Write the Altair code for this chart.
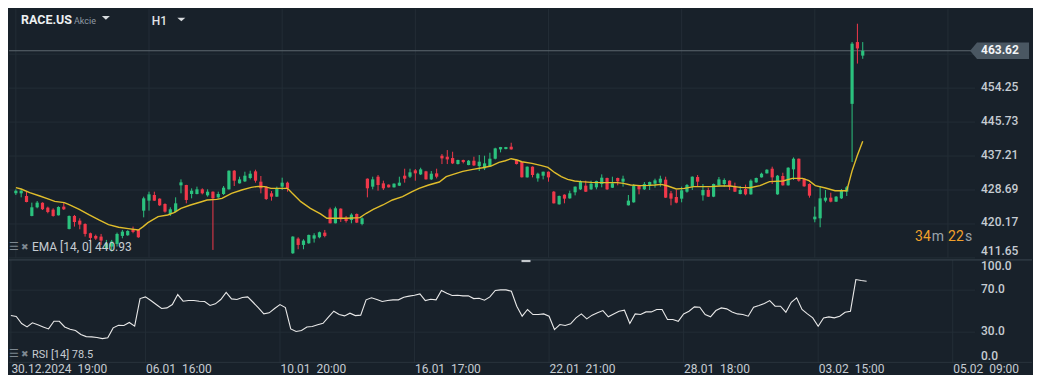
import json
import altair as alt
import pandas as pd

# ---------------- data (RACE.US, H1) ----------------
opens = [427.86, 427.86, 427.19, 422.18, 424.35, 425.52, 424.27, 423.76, 422.34, 424.52,
         418.92, 422.18, 421.01, 420.17, 417.84, 417.17, 417.00, 414.00, 414.50, 415.16,
         417.17, 417.33, 418.84, 418.67, 423.51, 426.02, 427.44, 426.52, 425.18, 422.68,
         423.26, 429.86, 429.94, 427.69, 427.69, 428.86, 427.35, 428.27, 426.85, 427.69,
         428.86, 433.53, 430.36, 430.86, 431.70, 433.37, 430.78, 429.53, 427.86, 427.02,
         429.53, 430.53, 412.82, 416.50, 414.91, 415.33, 416.50, 416.83, 418.00, 423.85,
         420.34, 424.01, 421.76, 421.18, 422.68, 420.17, 431.53, 429.53, 432.03, 430.36,
         430.03, 429.36, 429.78, 432.28, 432.03, 433.62, 432.61, 433.37, 431.36, 432.87,
         437.29, 437.04, 436.71, 435.20, 436.21, 434.95, 436.04, 434.70, 434.12, 434.70,
         436.54, 438.88, 438.96, 439.55, 436.21, 435.70, 431.86, 434.54, 431.61, 432.28,
         433.28, 428.27, 425.10, 427.52, 426.60, 428.11, 428.86, 429.78, 428.86, 429.36,
         430.19, 431.70, 429.27, 431.70, 430.78, 424.85, 425.60, 429.69, 428.86, 429.86,
         430.28, 430.53, 431.28, 427.86, 426.94, 426.52, 428.27, 429.53, 431.95, 427.35,
         428.69, 427.02, 429.86, 430.19, 431.03, 429.53, 427.69, 428.94, 427.60, 430.61,
         431.86, 432.87, 434.03, 427.60, 432.20, 429.86, 433.87, 436.54, 431.53, 430.19,
         421.34, 421.59, 426.02, 426.77, 425.77, 426.60, 428.27, 450.30, 465.80, 462.40]
highs = [428.86, 428.94, 428.27, 425.52, 425.93, 425.60, 424.52, 424.10, 424.60, 425.52,
         422.30, 422.43, 421.59, 420.34, 418.00, 417.50, 417.67, 416.17, 416.17, 418.00,
         418.67, 418.60, 419.51, 418.80, 427.02, 428.27, 428.27, 426.60, 425.35, 424.35,
         426.85, 431.36, 430.00, 429.11, 429.53, 429.11, 428.86, 428.35, 428.27, 429.69,
         433.60, 433.70, 432.03, 433.28, 433.53, 433.78, 432.20, 429.69, 428.44, 429.53,
         431.78, 430.78, 417.10, 416.83, 416.33, 417.50, 417.84, 418.25, 418.67, 424.27,
         424.52, 424.10, 422.18, 422.85, 422.80, 421.84, 431.60, 432.03, 432.45, 431.03,
         430.10, 430.36, 432.03, 434.03, 434.03, 433.95, 434.28, 433.50, 433.45, 434.03,
         437.71, 438.71, 438.29, 436.30, 436.30, 436.21, 437.04, 437.46, 437.29, 438.04,
         439.29, 439.50, 439.50, 440.55, 436.30, 435.80, 434.60, 434.60, 433.03, 433.30,
         433.35, 428.44, 427.30, 427.60, 428.52, 429.60, 431.11, 431.03, 431.03, 431.03,
         432.61, 431.80, 432.03, 431.80, 432.28, 427.44, 430.19, 429.94, 430.69, 430.80,
         431.53, 432.28, 432.03, 428.44, 428.69, 429.53, 430.19, 432.10, 432.45, 430.19,
         429.27, 430.30, 431.95, 431.61, 431.10, 430.53, 429.69, 430.03, 431.36, 431.80,
         433.03, 433.90, 434.54, 432.45, 433.03, 434.40, 436.87, 436.60, 431.60, 430.36,
         424.52, 429.69, 428.69, 428.02, 427.19, 428.94, 429.69, 465.80, 470.40, 465.80]
lows = [427.44, 426.85, 425.60, 422.10, 424.10, 423.68, 422.85, 422.01, 422.30, 423.68,
        418.80, 419.51, 418.84, 417.00, 415.58, 416.17, 414.91, 413.66, 413.24, 414.50,
        416.58, 417.20, 417.84, 416.70, 421.84, 423.51, 425.95, 424.70, 423.01, 422.18,
        423.01, 427.86, 425.35, 426.60, 427.60, 427.60, 427.02, 413.66, 426.60, 427.44,
        428.80, 429.69, 430.30, 430.69, 431.36, 430.53, 427.86, 426.19, 426.02, 426.95,
        428.69, 428.27, 412.66, 413.83, 413.83, 415.20, 415.50, 416.58, 416.83, 420.30,
        420.30, 420.67, 420.51, 420.34, 420.40, 419.84, 426.85, 428.86, 428.52, 428.69,
        429.30, 429.30, 429.69, 430.53, 431.70, 431.03, 432.45, 431.30, 431.20, 431.61,
        435.20, 435.20, 435.20, 435.10, 435.37, 434.90, 434.70, 433.45, 433.70, 434.60,
        436.37, 438.13, 438.90, 438.80, 435.10, 431.80, 431.80, 431.86, 430.78, 431.36,
        430.78, 425.30, 425.00, 425.35, 426.50, 427.35, 428.69, 428.20, 428.69, 428.86,
        429.36, 428.69, 429.20, 429.86, 429.53, 424.80, 425.50, 427.60, 428.69, 428.69,
        429.27, 429.53, 426.70, 424.85, 425.35, 425.60, 428.02, 428.69, 429.69, 426.02,
        426.95, 426.90, 429.80, 429.53, 428.69, 428.20, 427.60, 427.35, 427.50, 430.50,
        431.80, 432.80, 430.19, 427.50, 429.80, 429.80, 431.20, 430.78, 429.50, 426.77,
        420.59, 419.34, 425.60, 425.60, 425.70, 426.44, 427.19, 435.70, 460.40, 461.60]
closes = [428.52, 428.52, 425.68, 424.35, 425.52, 423.85, 423.18, 422.18, 424.43, 423.85,
          422.18, 420.67, 420.01, 417.67, 416.67, 416.50, 416.00, 415.33, 415.75, 417.67,
          418.25, 418.42, 418.17, 416.83, 426.60, 427.60, 426.02, 424.85, 423.26, 423.85,
          425.35, 430.61, 426.19, 428.52, 428.86, 427.86, 428.27, 426.60, 427.69, 429.27,
          433.53, 431.03, 431.36, 432.28, 432.78, 431.03, 429.11, 426.44, 427.02, 429.11,
          430.53, 429.11, 417.00, 414.91, 416.00, 417.42, 417.33, 418.09, 417.17, 420.34,
          424.10, 421.34, 420.92, 422.51, 420.51, 421.59, 429.11, 431.36, 429.94, 429.11,
          429.36, 430.28, 430.53, 431.53, 433.12, 432.87, 433.87, 431.36, 432.78, 432.03,
          436.62, 436.37, 435.37, 436.21, 435.70, 436.04, 434.87, 435.79, 435.37, 436.54,
          439.13, 439.46, 439.46, 438.88, 435.20, 431.86, 434.54, 432.45, 432.78, 433.28,
          431.86, 425.35, 427.19, 426.52, 427.86, 429.53, 430.94, 428.27, 430.28, 430.94,
          431.78, 428.86, 430.36, 430.86, 431.53, 426.02, 429.69, 428.86, 430.19, 430.69,
          431.11, 431.53, 426.77, 426.52, 425.52, 428.61, 429.94, 432.03, 430.78, 428.69,
          427.02, 430.19, 431.36, 431.20, 429.53, 428.27, 428.69, 427.60, 431.03, 431.70,
          432.78, 433.78, 431.86, 432.28, 429.86, 434.28, 436.54, 431.03, 429.61, 427.27,
          422.01, 426.60, 426.77, 425.77, 427.02, 428.69, 429.36, 465.40, 464.20, 463.62]

rsi_values = [45.8, 44.9, 38.2, 35.0, 38.9, 37.0, 35.0, 33.1, 40.4, 40.4,
              35.0, 32.8, 31.6, 27.8, 25.8, 25.5, 24.9, 23.9, 24.6, 34.1,
              36.6, 36.3, 39.2, 35.7, 62.0, 63.6, 60.1, 56.3, 52.5, 53.1,
              56.3, 65.8, 59.5, 60.1, 60.1, 59.5, 59.2, 55.4, 57.0, 61.1,
              67.8, 61.7, 61.1, 63.0, 63.6, 58.5, 53.1, 47.4, 48.4, 52.5,
              56.3, 53.5, 33.1, 30.6, 31.6, 35.0, 35.4, 37.0, 38.5, 44.3,
              50.0, 46.8, 45.5, 48.1, 45.8, 46.2, 60.8, 62.7, 61.1, 59.2,
              60.1, 60.8, 60.8, 63.3, 64.3, 65.2, 66.5, 60.1, 61.4, 60.8,
              69.7, 67.1, 64.9, 65.2, 64.6, 64.6, 62.0, 62.3, 60.4, 63.6,
              69.7, 70.3, 70.3, 69.0, 54.7, 45.2, 51.6, 46.8, 46.8, 47.4,
              45.2, 32.5, 37.3, 36.3, 37.9, 43.6, 47.4, 42.7, 46.2, 48.4,
              50.6, 44.6, 47.4, 50.0, 50.9, 38.2, 47.4, 46.8, 49.3, 49.3,
              51.6, 51.6, 42.0, 42.0, 40.4, 47.4, 50.0, 54.1, 53.8, 46.8,
              44.6, 50.6, 53.1, 52.2, 49.3, 47.4, 46.8, 45.2, 53.8, 55.4,
              57.3, 60.1, 54.7, 54.7, 49.0, 58.5, 62.7, 51.6, 47.4, 43.6,
              35.7, 43.6, 44.6, 43.6, 45.2, 49.0, 50.0, 80.1, 79.2, 78.5]

ema_x = [0, 1, 2.6, 4.5, 6.3, 7.3, 9.1, 10, 11.9, 13.7, 15.6, 17.4, 19.3, 21.1, 23, 23.9,
         24.8, 26.7, 28.5, 29.7, 31, 32.8, 34.7, 35.9, 37.7, 38.7, 40.5, 42.4, 44.2, 45.5,
         46.7, 47.9, 49.8, 51.0, 51.9, 53.5, 55.3, 57.2, 58.4, 60.0, 62.1, 64.6, 65.8, 67.1,
         68.9, 70.7, 72.6, 74.4, 75.7, 77.5, 79.5, 80.8, 82.1, 83.9, 85.8, 87.6, 89.2, 90.7,
         91.9, 93.0, 94.1, 95.0, 96.9, 98.7, 99.9, 101.2, 102.4, 103.6, 104.9, 106.1, 108.0,
         110.4, 112.9, 114.1, 115.4, 117.2, 119.0, 120.0, 121.2, 122.4, 124.0, 125.5, 127.3,
         130.4, 132.3, 134.1, 136.0, 137.8, 139.7, 141.5, 144.0, 145.8, 147.7, 148.9, 150.1,
         152.0, 153.8, 156, 157, 158, 159]
ema_y = [429.27, 428.94, 428.02, 427.19, 426.35, 425.85, 425.52, 425.00, 423.85, 422.51,
         421.18, 420.01, 419.34, 419.00, 418.67, 419.51, 420.51, 422.01, 422.43, 423.01,
         424.10, 424.93, 425.68, 426.19, 426.35, 426.60, 427.86, 428.69, 429.36, 429.61,
         429.53, 429.11, 429.11, 429.11, 427.86, 425.77, 424.10, 422.68, 421.59, 421.59,
         421.59, 421.76, 422.85, 423.85, 424.93, 426.19, 427.02, 428.27, 429.11, 429.94,
         430.70, 432.03, 432.61, 433.37, 433.87, 434.28, 434.70, 435.62, 436.04, 436.54,
         436.21, 435.79, 435.37, 434.79, 434.37, 433.03, 432.03, 431.36, 430.94, 430.78,
         430.61, 430.53, 430.53, 430.36, 429.94, 429.78, 429.85, 429.94, 430.11, 429.69,
         428.94, 429.11, 429.53, 429.53, 429.69, 429.69, 429.36, 429.27, 429.78, 430.78,
         430.94, 431.61, 431.61, 431.03, 429.78, 429.19, 428.52, 428.50, 433.50, 437.40,
         440.93]

date_ticks = [0, 25, 50, 75, 100, 125, 150, 175]
date_labels = ["30.12.2024\u00a0\u00a019:00", "06.01\u00a0\u00a016:00", "10.01\u00a0\u00a020:00",
               "16.01\u00a0\u00a017:00", "22.01\u00a0\u00a021:00", "28.01\u00a0\u00a018:00",
               "03.02\u00a0\u00a015:00", "05.02\u00a0\u00a009:00"]
price_grid = [411.65, 420.17, 428.69, 437.21, 445.73, 454.25, 462.77]
price_labels = [420.17, 428.69, 437.21, 445.73, 454.25]
price_bottom = [411.65]
last_price = 463.62
rsi_grid = [30, 70]
rsi_mid_labels = [70, 30]
rsi_top_label = [100]
rsi_bottom_label = [0]

# ---------------- style ----------------
BG = "#18212a"
GRID = "#232d36"
SEP = "#3a454e"
PRICE_LINE = "#5c676f"
GREEN = "#2bc27e"
RED = "#f0384a"
EMA_C = "#e0bd2b"
TXT = "#c6ccd2"
TAG = "#4a5762"
FONT = "Roboto"
W = 967
H_MAIN = 249
H_RSI = 103
X_DOMAIN = [-0.35, 179.15]
Y_MAIN = [411.65, 474.05]
Y_RSI = [0.8, 98.8]

xs = alt.Scale(domain=X_DOMAIN, nice=False, zero=False)
ys_main = alt.Scale(domain=Y_MAIN, nice=False, zero=False)
ys_rsi = alt.Scale(domain=Y_RSI, nice=False, zero=False)

label_expr = ("[" + ",".join(json.dumps(s, ensure_ascii=False) for s in date_labels) + "]"
              "[indexof(" + json.dumps(date_ticks) + ", datum.value)]")
x_axis = alt.Axis(values=date_ticks, labelExpr=label_expr, grid=False, ticks=False,
                  domain=False, labelAlign="left", labelBaseline="top", labelPadding=0.5,
                  labelFont=FONT, labelFontSize=12, labelColor=TXT, labelFlush=False,
                  labelOverlap=False, title=None)


def X(field, axis=None):
    return alt.X(f"{field}:Q", scale=xs, axis=axis, title=None)


def YM(field):
    return alt.Y(f"{field}:Q", scale=ys_main, axis=None, title=None)


def YR(field):
    return alt.Y(f"{field}:Q", scale=ys_rsi, axis=None, title=None)


def txt(t, x, y, size=12, color=TXT, weight="normal", align="left", baseline="middle", font=FONT):
    return alt.Chart(pd.DataFrame({"t": [t]})).mark_text(
        align=align, baseline=baseline, fontSize=size, color=color, fontWeight=weight, font=font
    ).encode(x=alt.value(x), y=alt.value(y), text="t:N")


n = len(opens)
cdf = pd.DataFrame({"i": list(range(n)), "o": opens, "h": highs, "l": lows, "c": closes})
color_enc = alt.Color("dir:N", scale=alt.Scale(domain=["up", "down"], range=[GREEN, RED]), legend=None)

# ---------------- main (price) panel ----------------
hgrid = alt.Chart(pd.DataFrame({"p": price_grid})).mark_rule(color=GRID, strokeWidth=1).encode(y=YM("p"))
vgrid = alt.Chart(pd.DataFrame({"i": date_ticks})).mark_rule(color=GRID, strokeWidth=1).encode(x=X("i"))
pline = alt.Chart(pd.DataFrame({"p": [last_price]})).mark_rule(color=PRICE_LINE, strokeWidth=1).encode(y=YM("p"))
wicks = alt.Chart(cdf).transform_calculate(dir="datum.c >= datum.o ? 'up' : 'down'").mark_rule(
    strokeWidth=1).encode(x=X("i"), y=YM("l"), y2="h:Q", color=color_enc)
bodies = alt.Chart(cdf).transform_calculate(dir="datum.c >= datum.o ? 'up' : 'down'").mark_bar(
    size=3.2).encode(x=X("i"), y=YM("o"), y2="c:Q", color=color_enc)
ema = alt.Chart(pd.DataFrame({"x": ema_x, "v": ema_y})).mark_line(
    color=EMA_C, strokeWidth=1.4).encode(x=X("x"), y=YM("v"))

plabels = alt.Chart(pd.DataFrame({"p": price_labels})).mark_text(
    align="left", baseline="middle", font=FONT, fontSize=12, color=TXT, fontWeight=500, dy=-1.5
).encode(x=alt.value(973), y=YM("p"), text=alt.Text("p:Q", format=".2f"))
plabel_bottom = alt.Chart(pd.DataFrame({"p": price_bottom})).mark_text(
    align="left", baseline="middle", font=FONT, fontSize=12, color=TXT, fontWeight=500, dy=-6.5
).encode(x=alt.value(973), y=YM("p"), text=alt.Text("p:Q", format=".2f"))

tag = alt.Chart(pd.DataFrame({"p": [last_price]})).mark_point(
    shape="M-1,0L-0.763,-0.283L1,-0.283L1,0.283L-0.763,0.283Z", size=3481,
    filled=True, color=TAG, opacity=1, strokeWidth=0
).encode(x=alt.value(991.5), y=YM("p"))
tag_text = alt.Chart(pd.DataFrame({"p": [last_price]})).mark_text(
    align="left", baseline="middle", font=FONT, fontSize=12, color="#f2f4f6", fontWeight="bold", dy=-0.5
).encode(x=alt.value(973), y=YM("p"), text=alt.Text("p:Q", format=".2f"))

tri = "M-1,-0.45L1,-0.45L0,0.45Z"
header = [
    txt("RACE.US", 12, 15.3, size=12.5, color="#eceff1", weight="bold", baseline="alphabetic"),
    txt("Akcie", 65, 14.6, size=9, color="#8f9aa4", baseline="alphabetic"),
    txt("H1", 143, 16, size=12, color="#e0e4e7", weight=500, baseline="alphabetic"),
    alt.Chart(pd.DataFrame({"t": [0]})).mark_point(shape=tri, size=64, filled=True, color="#d8dcdf",
                                                   opacity=1, strokeWidth=0).encode(x=alt.value(97), y=alt.value(8.7)),
    alt.Chart(pd.DataFrame({"t": [0]})).mark_point(shape=tri, size=64, filled=True, color="#d8dcdf",
                                                   opacity=1, strokeWidth=0).encode(x=alt.value(172.5), y=alt.value(10.3)),
]
ema_legend = [
    txt("\u2630", 0, 238, size=11, color="#7e8891", font="DejaVu Sans"),
    txt("\u2716", 12, 238, size=9, color="#7e8891", font="DejaVu Sans"),
    txt(f"EMA [14, 0] {ema_y[-1]:.2f}", 23, 237.8, size=12, color=TXT),
]
countdown = [
    txt("34", 907, 228.2, size=14, color="#f0a02a"),
    txt("m", 923.7, 228.2, size=14, color="#9aa3ab"),
    txt("22", 940, 228.2, size=14, color="#f0a02a"),
    txt("s", 957, 228.2, size=14, color="#9aa3ab"),
]

main = alt.layer(hgrid, vgrid, pline, wicks, bodies, ema, plabels, plabel_bottom, tag, tag_text,
                 *header, *ema_legend, *countdown).properties(width=W, height=H_MAIN)

# ---------------- RSI panel ----------------
rdf = pd.DataFrame({"i": list(range(n)), "r": rsi_values})
r_hgrid = alt.Chart(pd.DataFrame({"r": rsi_grid})).mark_rule(color=GRID, strokeWidth=1).encode(y=YR("r"))
r_vgrid = alt.Chart(pd.DataFrame({"i": date_ticks})).mark_rule(color=GRID, strokeWidth=1).encode(
    x=X("i", axis=x_axis))
r_line = alt.Chart(rdf).mark_line(color="#e8e8e8", strokeWidth=1.1).encode(x=X("i", axis=x_axis), y=YR("r"))
sep = alt.Chart(pd.DataFrame({"t": [0]})).mark_rule(color=SEP, strokeWidth=1).encode(
    x=alt.value(0), x2=alt.value(1024), y=alt.value(0))
bottom = alt.Chart(pd.DataFrame({"t": [0]})).mark_rule(color="#2a343d", strokeWidth=1).encode(
    x=alt.value(0), x2=alt.value(1024), y=alt.value(H_RSI - 0.5))
slider = alt.Chart(pd.DataFrame({"t": [0]})).mark_rect(color="#c4c8cc").encode(
    x=alt.value(513), x2=alt.value(522), y=alt.value(0), y2=alt.value(2.2))
r_mid = alt.Chart(pd.DataFrame({"r": rsi_mid_labels})).mark_text(
    align="left", baseline="middle", font=FONT, fontSize=12, color=TXT, fontWeight=500, dy=-1.5
).encode(x=alt.value(973), y=YR("r"), text=alt.Text("r:Q", format=".1f"))
r_top = alt.Chart(pd.DataFrame({"r": rsi_top_label})).mark_text(
    align="left", baseline="middle", font=FONT, fontSize=12, color=TXT, fontWeight=500, dy=7
).encode(x=alt.value(973), y=YR("r"), text=alt.Text("r:Q", format=".1f"))
r_bot = alt.Chart(pd.DataFrame({"r": rsi_bottom_label})).mark_text(
    align="left", baseline="middle", font=FONT, fontSize=12, color=TXT, fontWeight=500, dy=-7.5
).encode(x=alt.value(973), y=YR("r"), text=alt.Text("r:Q", format=".1f"))
rsi_legend = [
    txt("\u2630", 0, 94.5, size=11, color="#7e8891", font="DejaVu Sans"),
    txt("\u2716", 12, 94.5, size=9, color="#7e8891", font="DejaVu Sans"),
    txt(f"RSI [14]  {rsi_values[-1]:.1f}", 23, 95.5, size=11, color=TXT),
]

rsi_panel = alt.layer(r_hgrid, r_vgrid, bottom, r_line, sep, slider, r_mid, r_top, r_bot,
                      *rsi_legend).properties(width=W, height=H_RSI)

chart = alt.vconcat(main, rsi_panel, spacing=0).properties(padding=0).configure(
    background=BG).configure_view(stroke=None)

chart.save("out.html", embed_options={"renderer": "svg", "actions": False})
